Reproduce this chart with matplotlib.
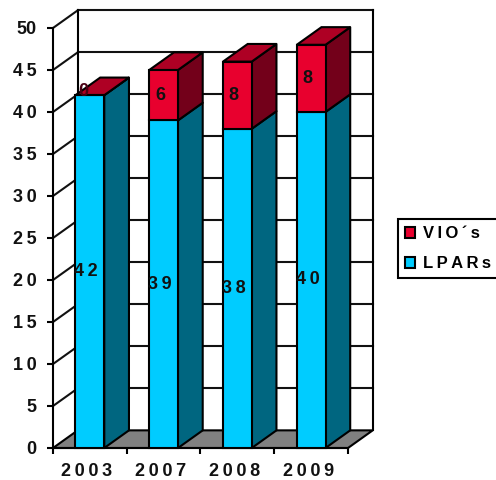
"""Stacked pseudo-3D column chart of LPARs and VIO servers per year."""

import matplotlib
matplotlib.use("Agg")
import matplotlib.pyplot as plt
import numpy as np
from matplotlib.patches import Patch, Polygon

plt.rcParams["font.family"] = ["Liberation Sans", "DejaVu Sans"]

YEARS = ["2003", "2007", "2008", "2009"]
LPARS = [42, 39, 38, 40]
VIOS = [0, 6, 8, 8]
Y_TICKS = [0, 5, 10, 15, 20, 25, 30, 35, 40, 45, 50]

# depth of the fake 3D box, in data units
DEPTH_X = 0.335
DEPTH_Y = 2.1
BAR_W = 0.39
LW = 1.5
FS = 13
THIN = "\u2009"

BLUE = ("#00CCFF", "#006680")
RED = ("#E8002E", "#73001A", "#AE0024")


def spaced(s):
    return THIN.join(s)


def box_side(ax, x, y0, y1, color, z):
    pts = [(x, y0), (x + DEPTH_X, y0 + DEPTH_Y), (x + DEPTH_X, y1 + DEPTH_Y), (x, y1)]
    ax.add_patch(Polygon(pts, fc=color, ec="black", lw=LW, zorder=z, clip_on=False, joinstyle="round"))


def draw_column(ax, i, lpar, vio):
    z = 5 + i
    left = i + 0.5 - BAR_W / 2
    right = left + BAR_W
    total = lpar + vio

    box_side(ax, right, 0, lpar, BLUE[1], z)
    box_side(ax, right, lpar, total, RED[1], z)
    top = [(left, total), (right, total),
           (right + DEPTH_X, total + DEPTH_Y), (left + DEPTH_X, total + DEPTH_Y)]
    ax.add_patch(Polygon(top, fc=RED[2], ec="black", lw=LW, zorder=z, clip_on=False))
    ax.bar(left, lpar, BAR_W, align="edge", color=BLUE[0], ec="black", lw=LW, zorder=z, clip_on=False)
    ax.bar(left, vio, BAR_W, bottom=lpar, align="edge", color=RED[0], ec="black", lw=LW, zorder=z, clip_on=False)

    tx = i + 0.45
    ax.text(tx, lpar / 2, spaced(str(lpar)), ha="center", va="center",
            fontsize=FS, fontweight="bold", color="#111111", zorder=20)
    color = "#111111" if vio else "#4A0014"
    ax.text(tx if vio else i + 0.41, lpar + vio / 2 + (0 if vio else 0.4), str(vio), ha="center", va="center",
            fontsize=FS, fontweight="bold", color=color, zorder=20)


def main():
    fig = plt.figure(figsize=(4.96, 4.80), dpi=100)
    # front plane of the box
    ax = fig.add_axes([53 / 496, 1 - 448 / 480, 295 / 496, 420 / 480])
    ax.set_xlim(0, len(YEARS))
    ax.set_ylim(0, 50)
    ax.patch.set_alpha(0)

    # floor and walls
    n = len(YEARS)
    floor = [(0, 0), (n, 0), (n + DEPTH_X, DEPTH_Y), (DEPTH_X, DEPTH_Y)]
    ax.add_patch(Polygon(floor, fc="#808080", ec="black", lw=LW, zorder=1, clip_on=False))
    for v in Y_TICKS[1:]:
        ax.plot([DEPTH_X, n + DEPTH_X], [v + DEPTH_Y] * 2, color="#111111", lw=LW, zorder=2, clip_on=False)
        ax.plot([0, DEPTH_X], [v, v + DEPTH_Y], color="#111111", lw=LW, zorder=2, clip_on=False)
    ax.plot([DEPTH_X, DEPTH_X], [DEPTH_Y, 50 + DEPTH_Y], color="black", lw=LW, zorder=2, clip_on=False)
    ax.plot([n + DEPTH_X, n + DEPTH_X], [DEPTH_Y, 50 + DEPTH_Y], color="black", lw=LW, zorder=2, clip_on=False)

    for i in range(n):
        draw_column(ax, i, LPARS[i], VIOS[i])

    # axes furniture
    for side in ["top", "right"]:
        ax.spines[side].set_visible(False)
    for side in ["left", "bottom"]:
        ax.spines[side].set_linewidth(LW)
        ax.spines[side].set_zorder(4)
    ax.set_yticks(Y_TICKS)
    ax.set_yticklabels([str(v) if v < 10 or v == 50 else spaced(str(v)) for v in Y_TICKS],
                       fontsize=FS, fontweight="bold", color="#111111")
    ax.set_xticks(np.arange(n + 1))
    ax.set_xticklabels([""] * (n + 1))
    ax.tick_params(axis="both", length=4, width=LW, direction="out")
    ax.tick_params(axis="y", pad=8)
    for i, year in enumerate(YEARS):
        ax.annotate(spaced(year), (i + 0.46, 0), xytext=(0, -24), textcoords="offset pixels",
                    ha="center", va="center", fontsize=FS, fontweight="bold", color="#111111",
                    annotation_clip=False)

    handles = [Patch(fc=RED[0], ec="black", lw=LW), Patch(fc=BLUE[0], ec="black", lw=LW)]
    labels = [spaced("VIO´s"), spaced("LPARs")]
    fig.legend(handles, labels, loc="upper left", bbox_to_anchor=(398 / 496, 1 - 219 / 480),
               borderaxespad=0, fancybox=False, framealpha=1, edgecolor="black",
               prop={"size": 12, "weight": "bold"}, handlelength=0.62, handleheight=0.62,
               handletextpad=0.45, borderpad=0.42, labelspacing=0.9).get_frame().set_linewidth(LW)

    fig.savefig("out.png", dpi=100)
    plt.close(fig)


if __name__ == "__main__":
    main()
